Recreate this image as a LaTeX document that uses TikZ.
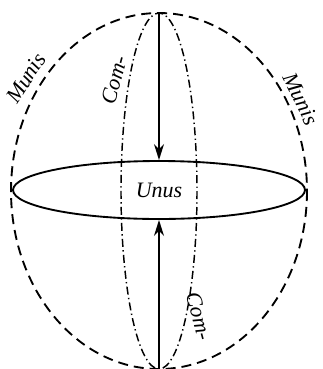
\documentclass[tikz,border=0pt]{standalone}
\usepackage{fontspec}
\setmainfont{Liberation Serif}
\usetikzlibrary{arrows.meta, shapes.geometric}

\begin{document}
\begin{tikzpicture}[x=0.75pt, y=-0.75pt, >={Stealth[length=12pt, width=7.5pt]},
    lbl/.style={font=\itshape\fontsize{16.5}{16.5}\selectfont, inner sep=0pt}]
    \useasboundingbox (0,0) rectangle (323,369);
    \coordinate (mid) at (159,191);
    \coordinate (top) at (159,13);
    \coordinate (bot) at (159,369);
    \draw[line width=1.4pt, dash pattern=on 7.5pt off 4.5pt] (mid) ellipse (148 and 178);
    \draw[line width=1.1pt, dash pattern=on 6pt off 2.5pt on 1pt off 2.5pt] (mid) ellipse (38 and 178);
    \node[draw, ellipse, line width=1.4pt, minimum width=219pt, minimum height=43.5pt, lbl] (unus) at (159,190) {Unus};
    \draw[->, line width=1.4pt] (top) -- (unus.north);
    \draw[->, line width=1.4pt] (bot) -- (unus.south);
    \node[lbl, rotate=57] (munisl) at (26,78) {Munis};
    \node[lbl, rotate=-64] (munisr) at (301,99) {Munis};
    \node[lbl, rotate=75] (coma) at (114,80) {Com-};
    \node[lbl, rotate=-75] (comb) at (199,316) {Com-};
\end{tikzpicture}
\end{document}
